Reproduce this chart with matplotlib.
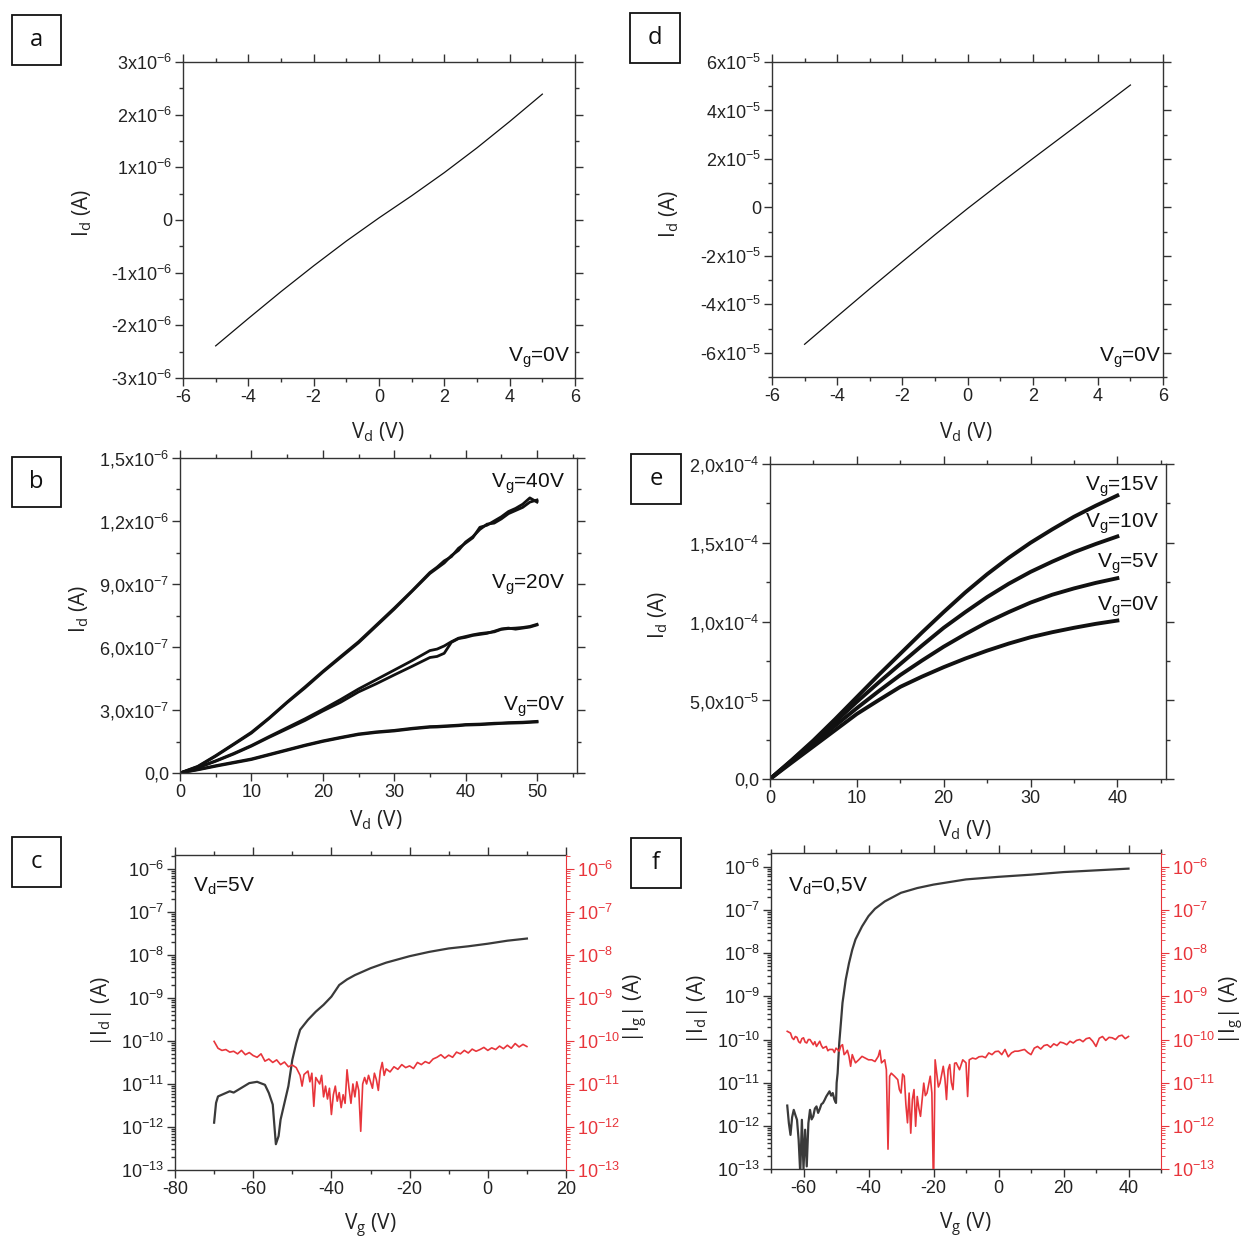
import numpy as np
import matplotlib
matplotlib.use('Agg')
import matplotlib.pyplot as plt
from matplotlib.ticker import MultipleLocator, LogLocator, NullFormatter
from matplotlib.patches import Rectangle

plt.rcParams['font.family'] = ['Liberation Sans', 'DejaVu Sans']
plt.rcParams['mathtext.fontset'] = 'custom'
plt.rcParams['mathtext.rm'] = 'Liberation Sans'
plt.rcParams['mathtext.it'] = 'Liberation Sans:italic'
plt.rcParams['axes.unicode_minus'] = False

# ---------------- data ----------------
# panel a
a_vd = [-5, -4, -3, -2, -1, 0, 1, 2, 3, 4, 5]
a_id = [-2.39e-6, -1.87e-6, -1.36e-6, -0.87e-6, -0.40e-6, 0.04e-6, 0.46e-6, 0.90e-6, 1.37e-6, 1.87e-6, 2.39e-6]
# panel d
d_vd = [-5, -4, -3, -2, -1, 0, 1, 2, 3, 4, 5]
d_id = [-5.65e-5, -4.50e-5, -3.36e-5, -2.24e-5, -1.13e-5, -0.05e-5, 0.99e-5, 2.01e-5, 3.02e-5, 4.03e-5, 5.05e-5]

# panel b (values in 1e-6 A)
b_vd = [0, 2.5, 5, 7.5, 10, 12.5, 15, 17.5, 20, 22.5, 25, 27.5, 30, 32.5, 35,
        36, 37, 38, 39, 40, 41, 42, 43, 44, 45, 46, 47, 48, 49, 50]
b_40_fwd = [0, 0.03, 0.08, 0.135, 0.19, 0.26, 0.335, 0.405, 0.48, 0.55, 0.62, 0.70, 0.78, 0.865, 0.95,
            0.975, 1.00, 1.035, 1.06, 1.10, 1.125, 1.16, 1.185, 1.19, 1.21, 1.235, 1.25, 1.265, 1.29, 1.30]
b_40_bwd = [0, 0.032, 0.083, 0.138, 0.194, 0.263, 0.338, 0.41, 0.484, 0.555, 0.625, 0.705, 0.785, 0.868, 0.955,
            0.98, 1.01, 1.03, 1.07, 1.095, 1.12, 1.17, 1.18, 1.20, 1.22, 1.245, 1.26, 1.28, 1.31, 1.29]
b_20_fwd = [0, 0.025, 0.056, 0.09, 0.128, 0.17, 0.21, 0.25, 0.295, 0.337, 0.386, 0.425, 0.467, 0.508, 0.55,
            0.555, 0.57, 0.622, 0.64, 0.646, 0.655, 0.66, 0.665, 0.675, 0.686, 0.69, 0.685, 0.69, 0.695, 0.705]
b_20_bwd = [0, 0.026, 0.058, 0.093, 0.131, 0.174, 0.216, 0.258, 0.303, 0.35, 0.40, 0.445, 0.49, 0.535, 0.583,
            0.59, 0.605, 0.625, 0.642, 0.65, 0.658, 0.664, 0.668, 0.672, 0.684, 0.688, 0.69, 0.693, 0.698, 0.708]
b_0_fwd = [0, 0.015, 0.032, 0.048, 0.064, 0.086, 0.108, 0.13, 0.15, 0.167, 0.183, 0.193, 0.20, 0.21, 0.218,
           0.219, 0.221, 0.223, 0.225, 0.228, 0.229, 0.230, 0.232, 0.234, 0.236, 0.237, 0.238, 0.239, 0.241, 0.243]
b_0_bwd = [0, 0.017, 0.035, 0.051, 0.067, 0.089, 0.111, 0.133, 0.153, 0.170, 0.186, 0.196, 0.203, 0.213, 0.221,
           0.222, 0.224, 0.226, 0.228, 0.231, 0.232, 0.233, 0.235, 0.237, 0.238, 0.240, 0.241, 0.242, 0.244, 0.246]

# panel e (values in 1e-5 A)
e_vd = [0, 2.5, 5, 7.5, 10, 12.5, 15, 17.5, 20, 22.5, 25, 27.5, 30, 32.5, 35, 37.5, 40]
e_15 = [0, 1.2, 2.45, 3.8, 5.2, 6.6, 7.95, 9.3, 10.6, 11.85, 13.0, 14.05, 15.0, 15.85, 16.65, 17.35, 18.0]
e_10 = [0, 1.17, 2.37, 3.62, 4.9, 6.12, 7.3, 8.47, 9.6, 10.6, 11.55, 12.4, 13.15, 13.8, 14.4, 14.92, 15.4]
e_5 = [0, 1.12, 2.25, 3.38, 4.5, 5.57, 6.6, 7.52, 8.4, 9.2, 9.95, 10.6, 11.2, 11.7, 12.1, 12.45, 12.75]
e_0 = [0, 1.04, 2.07, 3.1, 4.13, 5.0, 5.85, 6.5, 7.1, 7.65, 8.15, 8.6, 9.0, 9.32, 9.6, 9.85, 10.06]

# panel c (log10 of current)
c_vg_id = [-70, -69.5, -69, -67, -66, -65, -63, -61, -59, -57, -56, -55, -54.5, -54.2, -53.5, -53, -52, -51,
           -50, -49, -48, -46, -44, -42, -40, -38, -36, -34, -30, -26, -20, -15, -10, -5, 0, 5, 10]
c_id_log = [-11.90, -11.44, -11.29, -11.21, -11.17, -11.20, -11.09, -10.98, -10.95, -11.02, -11.21, -11.48,
            -12.06, -12.40, -12.21, -11.83, -11.44, -11.05, -10.44, -10.05, -9.74, -9.51, -9.32, -9.16, -8.97,
            -8.70, -8.57, -8.47, -8.31, -8.18, -8.03, -7.93, -7.85, -7.80, -7.74, -7.67, -7.62]
c_vg_ig = [-70, -69, -68, -67, -66, -65, -64, -63, -62, -61, -60, -59, -58, -57, -56, -55, -54, -53, -52, -51,
           -50, -49, -48, -47.5, -47, -46, -45.5, -45, -44.5, -44, -43, -42.5, -42, -41.5, -41, -40.5, -40,
           -39.5, -39, -38.5, -38, -37.5, -37, -36.5, -36, -35.5, -35, -34.5, -34, -33.5, -33, -32.5, -32,
           -31.5, -31, -30.5, -30, -29.5, -29, -28.5, -28, -27.5, -27, -26.5, -26, -25, -24, -23, -22, -21,
           -20, -19, -18, -17, -16, -15, -14, -13, -12, -11, -10, -9, -8, -7, -6, -5, -4, -3, -2, -1, 0,
           1, 2, 3, 4, 5, 6, 7, 8, 9, 10]
c_ig_log = [-10.01, -10.17, -10.22, -10.20, -10.26, -10.24, -10.30, -10.22, -10.32, -10.27, -10.34, -10.38,
            -10.30, -10.47, -10.42, -10.50, -10.44, -10.55, -10.49, -10.60, -10.56, -10.62, -10.80, -11.05,
            -10.78, -10.70, -10.95, -10.75, -11.52, -10.85, -11.00, -10.80, -11.30, -11.05, -11.35, -11.10,
            -11.71, -11.25, -11.05, -11.40, -11.20, -11.55, -11.25, -11.45, -10.67, -11.10, -11.45, -11.00,
            -11.30, -10.95, -11.15, -12.10, -11.00, -10.85, -11.00, -10.80, -10.95, -11.10, -10.75, -10.90,
            -11.15, -10.70, -10.50, -10.80, -10.65, -10.72, -10.60, -10.66, -10.55, -10.62, -10.58, -10.64,
            -10.50, -10.55, -10.48, -10.52, -10.42, -10.38, -10.32, -10.40, -10.33, -10.38, -10.26, -10.30,
            -10.22, -10.28, -10.19, -10.24, -10.20, -10.15, -10.22, -10.16, -10.20, -10.12, -10.18, -10.10,
            -10.17, -10.06, -10.14, -10.08, -10.13]

# panel f (log10 of current)
f_vg_id = [-65, -64.5, -64, -63.5, -63, -62.5, -62, -61.5, -61, -60.5, -60, -59.5, -59, -58.5, -58, -57.5,
           -57, -56.5, -56, -55.5, -55, -54.5, -54, -53.5, -53, -52.5, -52, -51.5, -51, -50.5, -50, -49.8,
           -49.5, -49, -48.5, -48, -47, -46, -45, -44, -42, -40, -38, -35, -30, -25, -20, -10, 0, 10, 20, 30, 40]
f_id_log = [-11.53, -11.94, -12.21, -11.80, -11.63, -11.75, -11.86, -12.32, -13.10, -11.86, -13.00, -12.09,
            -12.94, -11.94, -11.63, -11.85, -11.78, -11.60, -11.55, -11.70, -11.61, -11.50, -11.47, -11.40,
            -11.32, -11.26, -11.20, -11.30, -11.24, -11.39, -11.47, -11.00, -10.78, -10.08, -9.62, -9.15,
            -8.61, -8.23, -7.92, -7.68, -7.38, -7.14, -6.97, -6.80, -6.60, -6.49, -6.41, -6.29, -6.23,
            -6.18, -6.12, -6.08, -6.04]
f_vg_ig = [-65, -64, -63.5, -63, -62.5, -62, -61.5, -61, -60.5, -60, -59.5, -59, -58.5, -58, -57, -56.5, -56,
           -55, -54.5, -54, -53, -52.5, -52, -51, -50.5, -50, -49, -48.5, -48, -47.5, -47, -46.5, -46, -45.5,
           -45, -44.5, -44, -43, -42, -41, -40, -39, -38, -37, -36.5, -36, -35, -34.5, -34, -33.5, -33, -32,
           -31, -30.5, -30, -29.5, -29, -28.5, -28, -27.5, -27, -26.5, -26, -25.5, -25, -24.5, -24, -23,
           -22.5, -22, -21, -20.5, -20, -19.5, -19, -18.5, -18, -17, -16.5, -16, -15.5, -15, -14.5, -14,
           -13.5, -13, -12, -11, -10, -9.5, -9, -8, -7, -6, -5, -4, -3, -2, -1, 0, 1, 2, 3, 4, 5, 6, 7, 8,
           9, 10, 11, 12, 13, 14, 15, 16, 17, 18, 19, 20, 21, 22, 23, 24, 25, 26, 27, 28, 29, 30, 31, 32,
           33, 34, 35, 36, 37, 38, 39, 40]
f_ig_log = [-9.81, -9.85, -9.96, -10.00, -9.93, -9.95, -10.05, -10.08, -9.98, -9.96, -10.06, -10.08, -10.00,
            -10.00, -10.12, -10.05, -10.16, -10.04, -10.14, -10.20, -10.16, -10.26, -10.23, -10.23, -10.30,
            -10.20, -10.27, -10.15, -10.12, -10.35, -10.31, -10.25, -10.39, -10.62, -10.35, -10.45, -10.54,
            -10.47, -10.39, -10.43, -10.47, -10.47, -10.51, -10.39, -10.25, -10.54, -10.47, -10.70, -12.54,
            -10.85, -10.78, -10.85, -10.93, -11.16, -11.24, -10.80, -10.85, -11.50, -11.93, -11.24, -12.17,
            -11.39, -11.16, -12.01, -11.32, -11.60, -11.78, -11.01, -11.30, -11.24, -10.85, -11.24, -13.50,
            -10.47, -10.78, -11.10, -11.01, -10.62, -10.90, -11.39, -10.70, -10.58, -11.00, -11.16, -10.55,
            -10.54, -10.70, -10.47, -10.54, -11.32, -10.47, -10.43, -10.45, -10.40, -10.39, -10.42, -10.31,
            -10.35, -10.28, -10.27, -10.35, -10.23, -10.40, -10.31, -10.27, -10.27, -10.25, -10.23, -10.30,
            -10.35, -10.20, -10.16, -10.22, -10.14, -10.12, -10.18, -10.10, -10.14, -10.06, -10.08, -10.12,
            -10.04, -10.08, -10.02, -10.00, -10.05, -9.98, -9.96, -10.04, -10.16, -9.97, -9.93, -10.02, -9.95,
            -9.96, -10.00, -9.92, -9.90, -9.98, -9.93]

# tick labels
a_yticks = [-3e-6, -2e-6, -1e-6, 0, 1e-6, 2e-6, 3e-6]
a_ylabels = ['-3x10$^{-6}$', '-2x10$^{-6}$', '-1x10$^{-6}$', '0', '1x10$^{-6}$', '2x10$^{-6}$', '3x10$^{-6}$']
d_yticks = [-6e-5, -4e-5, -2e-5, 0, 2e-5, 4e-5, 6e-5]
d_ylabels = ['-6x10$^{-5}$', '-4x10$^{-5}$', '-2x10$^{-5}$', '0', '2x10$^{-5}$', '4x10$^{-5}$', '6x10$^{-5}$']
b_yticks = [0, 3e-7, 6e-7, 9e-7, 1.2e-6, 1.5e-6]
b_ylabels = ['0,0', '3,0x10$^{-7}$', '6,0x10$^{-7}$', '9,0x10$^{-7}$', '1,2x10$^{-6}$', '1,5x10$^{-6}$']
e_yticks = [0, 5e-5, 1e-4, 1.5e-4, 2e-4]
e_ylabels = ['0,0', '5,0x10$^{-5}$', '1,0x10$^{-4}$', '1,5x10$^{-4}$', '2,0x10$^{-4}$']
log_ticks = [1e-13, 1e-12, 1e-11, 1e-10, 1e-9, 1e-8, 1e-7, 1e-6]
log_labels = ['10$^{-13}$', '10$^{-12}$', '10$^{-11}$', '10$^{-10}$', '10$^{-9}$', '10$^{-8}$',
              '10$^{-7}$', '10$^{-6}$']

# ---------------- figure ----------------
W, H = 1247, 1240
fig = plt.figure(figsize=(W / 100, H / 100), dpi=100)
RED = '#e8353b'
DARK = '#333333'
TICK_FS = 13
LAB_FS = 15


def rect(l, r, t, b):
    return [l / W, 1 - b / H, (r - l) / W, (b - t) / H]


def px(x, y):
    return x / W, 1 - y / H


def style(ax, right=True):
    for s in ax.spines.values():
        s.set_color(DARK)
        s.set_linewidth(1.0)
    ax.tick_params(which='both', direction='out', top=True, right=right, color=DARK,
                   labelsize=TICK_FS, labelcolor='#222222', width=1.0, pad=2)
    ax.tick_params(which='major', length=6)
    ax.tick_params(which='minor', length=3)


def flabel(x, y, s, rot=0, color='#222222', fs=LAB_FS):
    fig.text(*px(x, y), s, rotation=rot, ha='center', va='center', fontsize=fs, color=color,
             family=['Open Sans', 'DejaVu Sans'])


def note(x, y, s, ha):
    fig.text(*px(x, y), s, ha=ha, va='center', fontsize=LAB_FS, color='#111111')


def panel_box(l, t, r, b, letter):
    x0, y1 = px(l, t)
    x1, y0 = px(r, b)
    fig.add_artist(Rectangle((x0, y0), x1 - x0, y1 - y0, transform=fig.transFigure,
                             fill=False, edgecolor='#111111', linewidth=1.3))
    fig.text((x0 + x1) / 2, (y0 + y1) / 2, letter, ha='center', va='center', fontsize=17,
             family=['Open Sans', 'DejaVu Sans'], color='#111111')


# panel a
ax = fig.add_axes(rect(183, 575, 62, 378))
ax.plot(a_vd, a_id, color='#111111', lw=0.9)
ax.set_xlim(-6, 6)
ax.set_ylim(-3e-6, 3e-6)
ax.xaxis.set_major_locator(MultipleLocator(2))
ax.xaxis.set_minor_locator(MultipleLocator(1))
ax.set_yticks(a_yticks, a_ylabels)
ax.yaxis.set_minor_locator(MultipleLocator(0.5e-6))
style(ax)
note(570, 358, r'$\mathregular{V_g}$=0V', 'right')
flabel(82, 213, r'$\mathregular{I_d}$ (A)', rot=90)
flabel(378, 432, r'$\mathregular{V_d}$ (V)')

# panel d
ax = fig.add_axes(rect(772, 1163, 62, 377))
ax.plot(d_vd, d_id, color='#111111', lw=0.9)
ax.set_xlim(-6, 6)
ax.set_ylim(-7e-5, 6e-5)
ax.xaxis.set_major_locator(MultipleLocator(2))
ax.xaxis.set_minor_locator(MultipleLocator(1))
ax.set_yticks(d_yticks, d_ylabels)
ax.yaxis.set_minor_locator(MultipleLocator(1e-5))
style(ax)
note(1161, 358, r'$\mathregular{V_g}$=0V', 'right')
flabel(669, 214, r'$\mathregular{I_d}$ (A)', rot=90)
flabel(966, 432, r'$\mathregular{V_d}$ (V)')

# panel b
ax = fig.add_axes(rect(180, 577, 458, 773))
for fwd, bwd in [(b_40_fwd, b_40_bwd), (b_20_fwd, b_20_bwd), (b_0_fwd, b_0_bwd)]:
    ax.plot(b_vd, np.array(fwd) * 1e-6, color='#111111', lw=2.0)
    ax.plot(b_vd, np.array(bwd) * 1e-6, color='#111111', lw=2.0)
ax.set_xlim(0, 55.6)
ax.set_ylim(0, 1.5e-6)
ax.xaxis.set_major_locator(MultipleLocator(10))
ax.xaxis.set_minor_locator(MultipleLocator(5))
ax.set_yticks(b_yticks, b_ylabels)
ax.yaxis.set_minor_locator(MultipleLocator(1.5e-7))
style(ax)
for ypx, s in [(484, '40V'), (585, '20V'), (707, '0V')]:
    note(565, ypx, r'$\mathregular{V_g}$=' + s, 'right')
flabel(79, 609, r'$\mathregular{I_d}$ (A)', rot=90)
flabel(376, 820, r'$\mathregular{V_d}$ (V)')

# panel e
ax = fig.add_axes(rect(770, 1166, 464, 779))
for ser in [e_15, e_10, e_5, e_0]:
    ax.plot(e_vd, np.array(ser) * 1e-5, color='#111111', lw=2.8)
ax.set_xlim(0, 45.6)
ax.set_ylim(0, 2e-4)
ax.xaxis.set_major_locator(MultipleLocator(10))
ax.xaxis.set_minor_locator(MultipleLocator(5))
ax.set_yticks(e_yticks, e_ylabels)
ax.yaxis.set_minor_locator(MultipleLocator(2.5e-5))
style(ax)
for ypx, s in [(487, '15V'), (524, '10V'), (564, '5V'), (607, '0V')]:
    note(1159, ypx, r'$\mathregular{V_g}$=' + s, 'right')
flabel(658, 615, r'$\mathregular{I_d}$ (A)', rot=90)
flabel(965, 830, r'$\mathregular{V_d}$ (V)')


def transfer(rc, xlim, xmaj, xmin, vg_id, id_log, vg_ig, ig_log, txt, notex, lab_l, lab_r, lab_x):
    ax = fig.add_axes(rc)
    ax.plot(vg_id, 10.0 ** np.array(id_log), color='#3a3a3a', lw=1.6)
    ax.set_yscale('log')
    ax.set_xlim(*xlim)
    ax.set_ylim(1e-13, 2.1e-6)
    ax.xaxis.set_major_locator(MultipleLocator(xmaj))
    ax.xaxis.set_minor_locator(MultipleLocator(xmin))
    ax.set_yticks(log_ticks, log_labels)
    ax.yaxis.set_minor_locator(LogLocator(base=10, subs=np.arange(2, 10), numticks=100))
    ax.yaxis.set_minor_formatter(NullFormatter())
    style(ax, right=False)
    ax.spines['right'].set_visible(False)
    ax2 = ax.twinx()
    ax2.plot(vg_ig, 10.0 ** np.array(ig_log), color=RED, lw=1.2)
    ax2.set_yscale('log')
    ax2.set_ylim(1e-13, 2.1e-6)
    ax2.set_yticks(log_ticks, log_labels)
    ax2.yaxis.set_minor_locator(LogLocator(base=10, subs=np.arange(2, 10), numticks=100))
    ax2.yaxis.set_minor_formatter(NullFormatter())
    for k in ['left', 'top', 'bottom']:
        ax2.spines[k].set_visible(False)
    ax2.spines['right'].set_color(RED)
    ax2.tick_params(which='both', direction='out', color=RED, labelcolor=RED, labelsize=TICK_FS, pad=2)
    ax2.tick_params(which='major', length=6)
    ax2.tick_params(which='minor', length=3)
    note(notex, 886, txt, 'left')
    flabel(*lab_l, r'$\mathregular{|I_d|}$ (A)', rot=90)
    flabel(*lab_r, r'$\mathregular{|I_g|}$ (A)', rot=90)
    flabel(*lab_x, r'$\mathregular{V_g}$ (V)')


transfer(rect(175, 566, 855, 1170), (-80, 20), 20, 10, c_vg_id, c_id_log, c_vg_ig, c_ig_log,
         r'$\mathregular{V_d}$=5V', 193, (102, 1012), (636, 1008), (370, 1226))
transfer(rect(771, 1161, 853, 1169), (-70, 50), 20, 10, f_vg_id, f_id_log, f_vg_ig, f_ig_log,
         r'$\mathregular{V_d}$=0,5V', 788, (698, 1010), (1232, 1010), (965, 1225))

panel_box(12, 15, 61, 65, 'a')
panel_box(12, 457, 61, 507, 'b')
panel_box(12, 837, 61, 887, 'c')
panel_box(630, 13, 680, 63, 'd')
panel_box(631, 454, 681, 504, 'e')
panel_box(631, 838, 681, 888, 'f')

fig.savefig('out.png', dpi=100)
